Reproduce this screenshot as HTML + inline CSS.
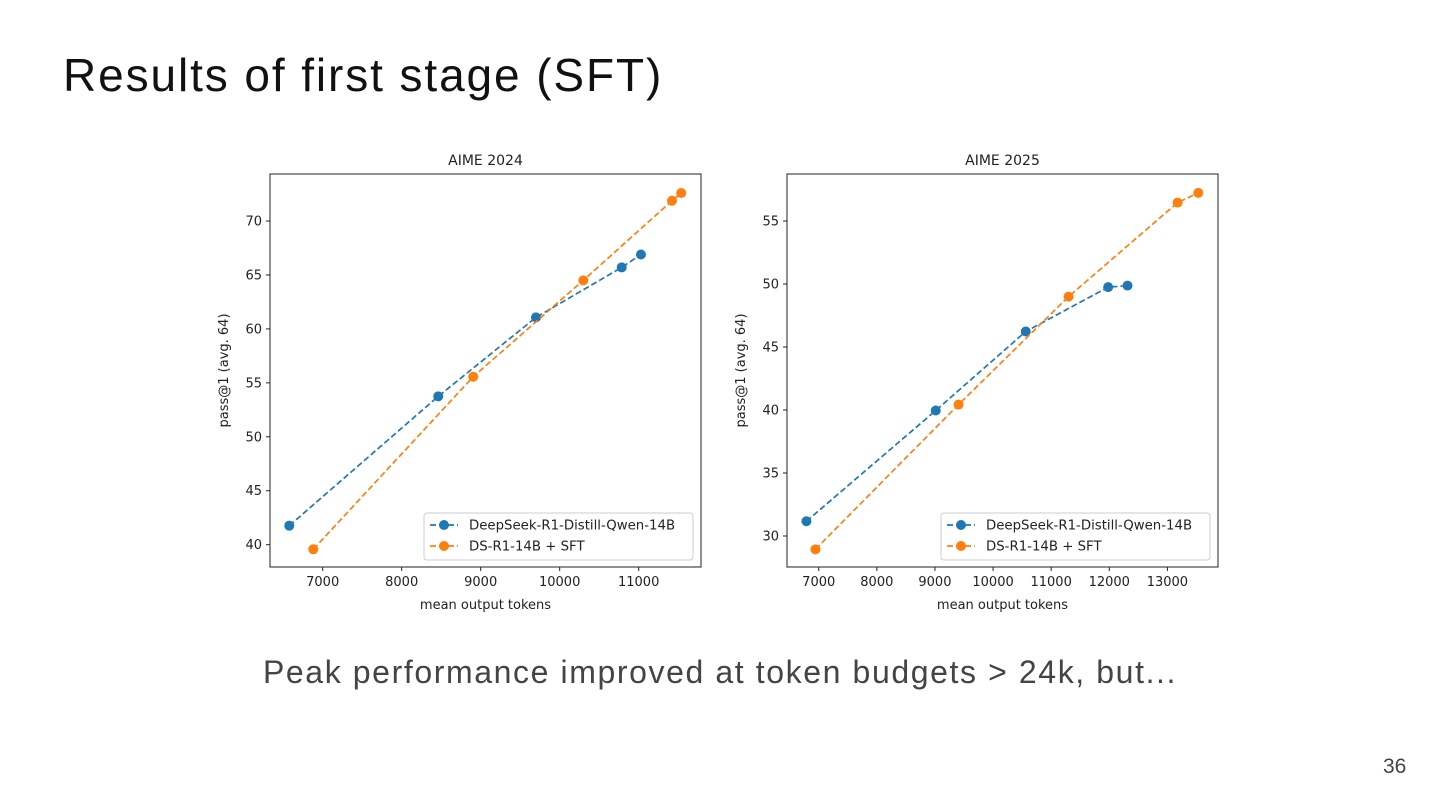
<!DOCTYPE html>
<html><head><meta charset="utf-8">
<style>
body{margin:0;width:1440px;height:810px;background:#fff;overflow:hidden;position:relative;font-family:"Liberation Sans","DejaVu Sans",sans-serif}
#title{position:absolute;left:63px;top:48px;font-size:46px;color:#111;margin:0;font-weight:normal;letter-spacing:1.9px}
#sub{position:absolute;left:0;width:1440px;top:654px;text-align:center;font-size:32px;color:#444;letter-spacing:1.6px}
#pn{position:absolute;left:1383px;top:755px;font-size:21px;color:#444}
svg{position:absolute;left:0;top:0}
svg text{font-family:"DejaVu Sans","Liberation Sans",sans-serif;fill:#222}
</style></head><body>
<h1 id="title">Results of first stage (SFT)</h1>
<div id="sub">Peak performance improved at token budgets &gt; 24k, but...</div>
<div id="pn">36</div>
<svg id="chart" width="1440" height="810"></svg>
<script>
const aime24BaseX=[6577,8463,9700,10785,11029];
const aime24BaseY=[41.76,53.75,61.07,65.7,66.9];
const aime24SftX=[6881,8906,10299,11422,11539];
const aime24SftY=[39.57,55.57,64.5,71.88,72.6];
const aime25BaseX=[6788,9014,10563,11981,12314];
const aime25BaseY=[31.17,39.96,46.23,49.75,49.87];
const aime25SftX=[6943,9406,11300,13176,13532];
const aime25SftY=[28.94,40.43,49.0,56.46,57.23];
const aime24XTicks=[7000,8000,9000,10000,11000];
const aime24YTicks=[40,45,50,55,60,65,70];
const aime25XTicks=[7000,8000,9000,10000,11000,12000,13000];
const aime25YTicks=[30,35,40,45,50,55];
const seriesNames=["DeepSeek-R1-Distill-Qwen-14B","DS-R1-14B + SFT"];
const titles=["AIME 2024","AIME 2025"];

const NS="http://www.w3.org/2000/svg";
const svg=document.getElementById('chart');
function mk(tag,attrs,parent){const e=document.createElementNS(NS,tag);for(const k in attrs)e.setAttribute(k,attrs[k]);(parent||svg).appendChild(e);return e;}

function drawChart(id,box,xd,yd,xt,yt,title,series){
  const g=mk('g',{});
  
  
  const sx=v=>box.x0+(v-xd[0])/(xd[1]-xd[0])*(box.x1-box.x0);
  const sy=v=>box.y1-(v-yd[0])/(yd[1]-yd[0])*(box.y1-box.y0);
  const t=mk('text',{x:(box.x0+box.x1)/2,y:box.y0-9,'text-anchor':'middle','font-size':14},g);t.textContent=title;
  
  
  xt.forEach(v=>{
    mk('line',{x1:sx(v),x2:sx(v),y1:box.y1,y2:box.y1+4,stroke:'#222'},g);
    const l=mk('text',{x:sx(v),y:box.y1+19,'text-anchor':'middle','font-size':13},g);l.textContent=v;
    
    
  });
  yt.forEach(v=>{
    mk('line',{x1:box.x0-4,x2:box.x0,y1:sy(v),y2:sy(v),stroke:'#222'},g);
    const l=mk('text',{x:box.x0-8,y:sy(v)+4.5,'text-anchor':'end','font-size':13},g);l.textContent=v;
    
    
  });
  const xl=mk('text',{x:(box.x0+box.x1)/2,y:box.y1+42,'text-anchor':'middle','font-size':13},g);xl.textContent='mean output tokens';
  
  
  const cy=(box.y0+box.y1)/2, cx=box.x0-42;
  const yl=mk('text',{x:cx,y:cy,'text-anchor':'middle','font-size':13,transform:`rotate(-90 ${cx} ${cy})`},g);yl.textContent='pass@1 (avg. 64)';
  
  
  series.forEach((s,i)=>{
    const pts=s.x.map((v,j)=>sx(v)+','+sy(s.y[j])).join(' ');
    const pl=mk('polyline',{points:pts,fill:'none',stroke:s.c,'stroke-width':1.7,'stroke-dasharray':'6,3'},g);
    
    
    s.x.forEach((v,j)=>{
      const c=mk('circle',{cx:sx(v),cy:sy(s.y[j]),r:5,fill:s.c},g);
      
      
    });
  });
  mk('rect',{x:box.x0,y:box.y0,width:box.x1-box.x0,height:box.y1-box.y0,fill:'none',stroke:'#222','stroke-width':1},g);
  const lg=mk('g',{},g);
  
  
  const lx=box.x1-277, ly=box.y1-54;
  mk('rect',{x:lx,y:ly,width:269,height:47,rx:3,fill:'#fff',stroke:'#ccc'},lg);
  series.forEach((s,i)=>{
    const yy=ly+12+i*21;
    mk('line',{x1:lx+6,x2:lx+34,y1:yy,y2:yy,stroke:s.c,'stroke-width':1.7,'stroke-dasharray':'6,3'},lg);
    mk('circle',{cx:lx+20,cy:yy,r:5,fill:s.c},lg);
    const tt=mk('text',{x:lx+45,y:yy+4.5,'font-size':13.3},lg);tt.textContent=seriesNames[i];
    
    
  });
}
drawChart('aime-2024-chart',{x0:270,x1:701,y0:174,y1:567},[6333,11789],[37.93,74.36],aime24XTicks,aime24YTicks,titles[0],
  [{x:aime24BaseX,y:aime24BaseY,c:'#1f77b4'},{x:aime24SftX,y:aime24SftY,c:'#ff7f0e'}]);
drawChart('aime-2025-chart',{x0:787,x1:1218,y0:174,y1:567},[6454,13871],[27.54,58.73],aime25XTicks,aime25YTicks,titles[1],
  [{x:aime25BaseX,y:aime25BaseY,c:'#1f77b4'},{x:aime25SftX,y:aime25SftY,c:'#ff7f0e'}]);
</script>
</body></html>
